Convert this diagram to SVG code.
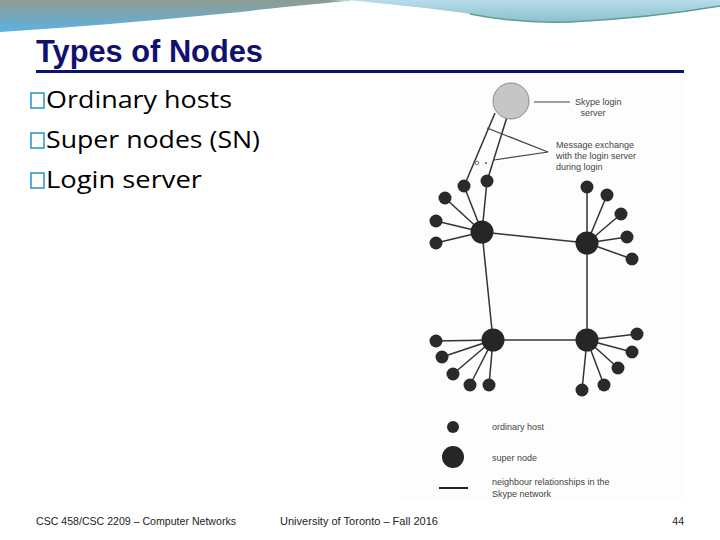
<svg xmlns="http://www.w3.org/2000/svg" width="720" height="540" viewBox="0 0 720 540">
<defs>
<linearGradient id="gl" x1="0" y1="0" x2="0" y2="1">
<stop offset="0" stop-color="#8e9c92"/>
<stop offset="1" stop-color="#5cb2e2"/>
</linearGradient>
<linearGradient id="gr" x1="0" y1="0" x2="0" y2="1">
<stop offset="0" stop-color="#b6dcea"/>
<stop offset="1" stop-color="#8cc0cc"/>
</linearGradient>
<style>
.title{font-family:"Liberation Sans",Arial,sans-serif;font-weight:bold;fill:#10106e}
.body{font-family:"Open Sans","Liberation Sans",Arial,sans-serif;font-size:23px;fill:#000}
.foot{font-family:"Liberation Sans",Arial,sans-serif;font-size:10.5px;fill:#222}
.lbl{font-family:"Liberation Sans",Arial,sans-serif;font-size:9px;fill:#444}
.bul{fill:none;stroke:#2d9ccb;stroke-width:1.6}
.host{fill:#2a2a2a}
.sn{fill:#262626}
.edge{stroke:#333;stroke-width:1.5;fill:none}
.thin{stroke:#444;stroke-width:1.2;fill:none}
</style>
</defs>
<rect width="720" height="540" fill="#fff"/>
<path d="M0,0 H360 Q320,3 230,13 Q110,25 0,32 Z" fill="url(#gl)"/>
<path d="M330,0 H720 V6 Q650,18 570,22 Q520,24 470,14 Q420,6 330,0 Z" fill="url(#gr)"/>
<path d="M470,14 Q520,24 570,22 Q650,18 720,6" fill="none" stroke="#5f9c92" stroke-width="1.5"/>
<path d="M350,1 Q420,8 470,15" fill="none" stroke="#ffffff" stroke-width="1.5"/>

<text class="title" x="36" y="62" font-size="31" textLength="227" lengthAdjust="spacingAndGlyphs">Types of Nodes</text>
<rect x="36" y="70" width="648" height="3" fill="#10106e"/>

<g id="bullets">
<rect class="bul" x="31" y="93" width="13" height="15"/>
<text class="body" x="46" y="108" textLength="186" lengthAdjust="spacingAndGlyphs">Ordinary hosts</text>
<rect class="bul" x="31" y="133" width="13" height="15"/>
<text class="body" x="46" y="148" textLength="214" lengthAdjust="spacingAndGlyphs">Super nodes (SN)</text>
<rect class="bul" x="31" y="173" width="13" height="15"/>
<text class="body" x="46" y="188" textLength="156" lengthAdjust="spacingAndGlyphs">Login server</text>
</g>

<rect x="401" y="76" width="284" height="424" fill="#fdfdfd"/>

<g id="connectors">
<line class="edge" x1="495" y1="113" x2="465" y2="184"/>
<line class="edge" x1="507" y1="117" x2="488" y2="178"/>
<line class="thin" x1="534" y1="102" x2="570" y2="102"/>
<line class="thin" x1="487" y1="128" x2="548" y2="152"/>
<line class="thin" x1="494" y1="160" x2="548" y2="152"/>
<line class="edge" x1="482" y1="232" x2="464" y2="186"/>
<line class="edge" x1="482" y1="232" x2="487" y2="181"/>
<line class="edge" x1="482" y1="232" x2="445" y2="198"/>
<line class="edge" x1="482" y1="232" x2="436" y2="221"/>
<line class="edge" x1="482" y1="232" x2="436" y2="243"/>
<line class="edge" x1="482" y1="232" x2="587" y2="243"/>
<line class="edge" x1="482" y1="232" x2="493" y2="340"/>
<line class="edge" x1="587" y1="243" x2="587" y2="340"/>
<line class="edge" x1="493" y1="340" x2="587" y2="340"/>
<line class="edge" x1="587" y1="243" x2="587" y2="187"/>
<line class="edge" x1="587" y1="243" x2="607" y2="195"/>
<line class="edge" x1="587" y1="243" x2="621" y2="214"/>
<line class="edge" x1="587" y1="243" x2="627" y2="237"/>
<line class="edge" x1="587" y1="243" x2="632" y2="259"/>
<line class="edge" x1="493" y1="340" x2="436" y2="341"/>
<line class="edge" x1="493" y1="340" x2="442" y2="357"/>
<line class="edge" x1="493" y1="340" x2="453" y2="374"/>
<line class="edge" x1="493" y1="340" x2="470" y2="385"/>
<line class="edge" x1="493" y1="340" x2="489" y2="385"/>
<line class="edge" x1="587" y1="340" x2="637" y2="334"/>
<line class="edge" x1="587" y1="340" x2="632" y2="352"/>
<line class="edge" x1="587" y1="340" x2="618" y2="368"/>
<line class="edge" x1="587" y1="340" x2="604" y2="385"/>
<line class="edge" x1="587" y1="340" x2="582" y2="390"/>
</g>

<g id="login-server">
<circle cx="511" cy="101" r="18" fill="#c6c6c6" stroke="#8a8a8a" stroke-width="1"/>
<text class="lbl" x="575" y="105">Skype login</text>
<text class="lbl" x="593" y="116" text-anchor="middle">server</text>
</g>
<g id="login-note">
<text class="lbl" x="556" y="148">Message exchange</text>
<text class="lbl" x="556" y="159">with the login server</text>
<text class="lbl" x="556" y="170">during login</text>
<circle cx="477" cy="163" r="1.8" fill="none" stroke="#555" stroke-width="0.8"/>
<circle cx="486" cy="163" r="1" fill="#555"/>
</g>

<g id="sn1">
<circle class="sn" cx="482" cy="232" r="11.5"/>
<circle class="host" cx="464" cy="186" r="6.5"/>
<circle class="host" cx="487" cy="181" r="6.5"/>
<circle class="host" cx="445" cy="198" r="6.5"/>
<circle class="host" cx="436" cy="221" r="6.5"/>
<circle class="host" cx="436" cy="243" r="6.5"/>
</g>
<g id="sn2">
<circle class="sn" cx="587" cy="243" r="11.5"/>
<circle class="host" cx="587" cy="187" r="6.5"/>
<circle class="host" cx="607" cy="195" r="6.5"/>
<circle class="host" cx="621" cy="214" r="6.5"/>
<circle class="host" cx="627" cy="237" r="6.5"/>
<circle class="host" cx="632" cy="259" r="6.5"/>
</g>
<g id="sn3">
<circle class="sn" cx="493" cy="340" r="11.5"/>
<circle class="host" cx="436" cy="341" r="6.5"/>
<circle class="host" cx="442" cy="357" r="6.5"/>
<circle class="host" cx="453" cy="374" r="6.5"/>
<circle class="host" cx="470" cy="385" r="6.5"/>
<circle class="host" cx="489" cy="385" r="6.5"/>
</g>
<g id="sn4">
<circle class="sn" cx="587" cy="340" r="11.5"/>
<circle class="host" cx="637" cy="334" r="6.5"/>
<circle class="host" cx="632" cy="352" r="6.5"/>
<circle class="host" cx="618" cy="368" r="6.5"/>
<circle class="host" cx="604" cy="385" r="6.5"/>
<circle class="host" cx="582" cy="390" r="6.5"/>
</g>

<g id="legend">
<circle class="host" cx="453" cy="427" r="6"/>
<text class="lbl" x="492" y="430">ordinary host</text>
<circle class="sn" cx="453" cy="457" r="11"/>
<text class="lbl" x="492" y="461">super node</text>
<line x1="439" y1="488" x2="468" y2="488" stroke="#222" stroke-width="2"/>
<text class="lbl" x="492" y="485">neighbour relationships in the</text>
<text class="lbl" x="492" y="497">Skype network</text>
</g>

<g id="footer">
<text class="foot" x="36" y="525" textLength="200" lengthAdjust="spacingAndGlyphs">CSC 458/CSC 2209 – Computer Networks</text>
<text class="foot" x="280" y="525" textLength="158" lengthAdjust="spacingAndGlyphs">University of Toronto – Fall 2016</text>
<text class="foot" x="684" y="525" text-anchor="end">44</text>
</g>
</svg>
